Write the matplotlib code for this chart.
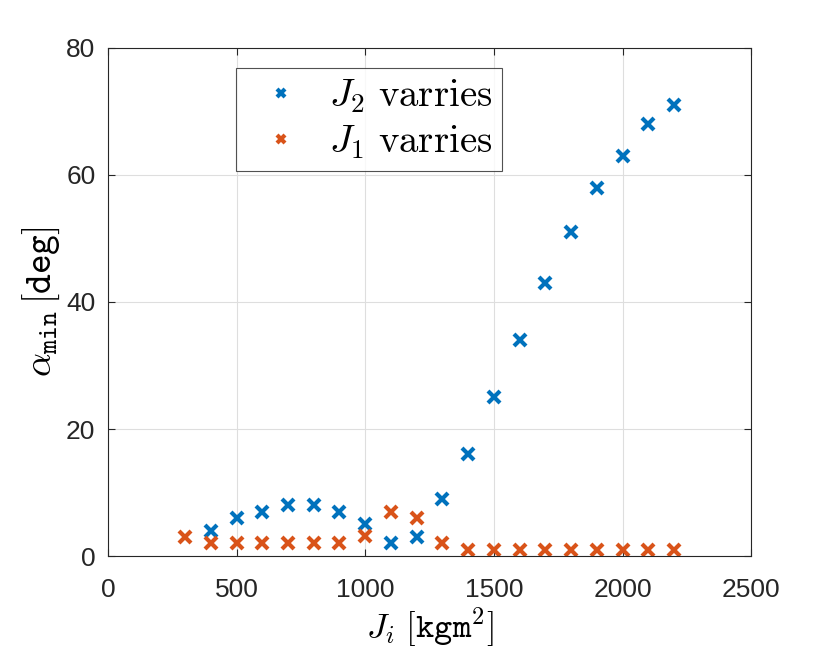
import matplotlib.pyplot as plt

plt.rcParams['mathtext.fontset'] = 'cm'
plt.rcParams['font.family'] = ['Liberation Sans', 'DejaVu Sans']

# J2 varies
j2_x = [400, 500, 600, 700, 800, 900, 1000, 1100, 1200, 1300, 1400, 1500,
        1600, 1700, 1800, 1900, 2000, 2100, 2200]
j2_alpha = [4, 6, 7, 8, 8, 7, 5, 2, 3, 9, 16, 25, 34, 43, 51, 58, 63, 68, 71]

# J1 varies
j1_x = [300, 400, 500, 600, 700, 800, 900, 1000, 1100, 1200, 1300, 1400,
        1500, 1600, 1700, 1800, 1900, 2000, 2100, 2200]
j1_alpha = [3, 2, 2, 2, 2, 2, 2, 3.2, 7, 6, 2, 1, 1, 1, 1, 1, 1, 1, 1, 1]

xticks = [0, 500, 1000, 1500, 2000, 2500]
yticks = [0, 20, 40, 60, 80]

fig = plt.figure(figsize=(8.3, 6.57), dpi=100)
ax = fig.add_axes([0.130, 0.1537, 0.775, 0.7733])

ax.plot(j2_x, j2_alpha, 'x', color='#0072BD', markersize=9, markeredgewidth=3,
        label=r'$J_2\ \mathrm{varries}$', linestyle='none')
ax.plot(j1_x, j1_alpha, 'x', color='#D95319', markersize=9, markeredgewidth=3,
        label=r'$J_1\ \mathrm{varries}$', linestyle='none')

ax.set_xlim(0, 2500)
ax.set_ylim(0, 80)
ax.set_xticks(xticks)
ax.set_yticks(yticks)
ax.tick_params(direction='in', labelsize=19, colors='#262626', length=5,
               top=True, right=True)
ax.tick_params(axis='x', pad=16)
ax.tick_params(axis='y', pad=9)
for s in ax.spines.values():
    s.set_color('#262626')
    s.set_linewidth(0.8)
ax.grid(True, color='#dedede', linewidth=0.8)
ax.set_axisbelow(True)

ax.set_xlabel(r'$J_i\ [\mathtt{kgm}^2]$', fontsize=25, labelpad=2)
ax.set_ylabel(r'$\alpha_{\mathtt{min}}\,[\mathtt{deg}]$', fontsize=27, labelpad=3)

leg = ax.legend(loc='upper left', bbox_to_anchor=(0.199, 0.961), fontsize=28,
                frameon=True, fancybox=False, edgecolor='#262626',
                borderaxespad=0, handletextpad=0.35, borderpad=0.25,
                labelspacing=0.22, handlelength=1.8, markerscale=0.6)
leg.get_frame().set_linewidth(0.8)

fig.savefig('out.png', dpi=100)
